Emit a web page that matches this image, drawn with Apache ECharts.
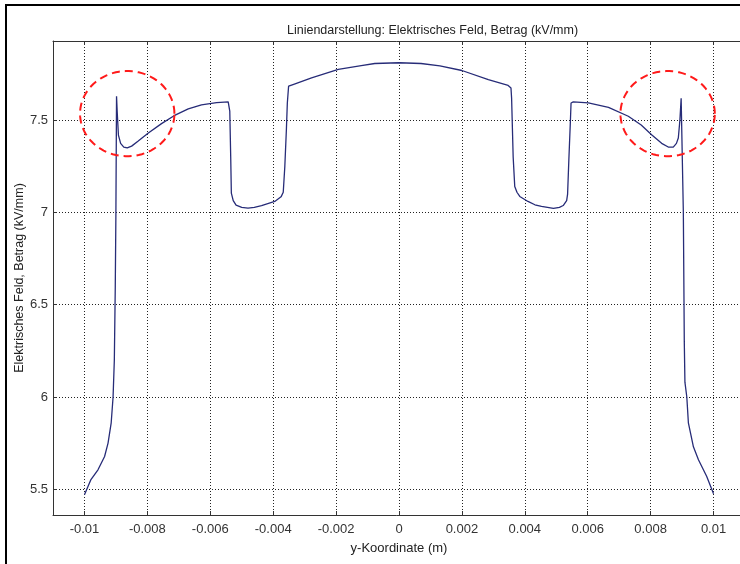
<!DOCTYPE html>
<html>
<head>
<meta charset="utf-8">
<script src="https://cdn.jsdelivr.net/npm/echarts@6/dist/echarts.min.js"></script>
<style>html,body{margin:0;padding:0;background:#fff}#c{width:740px;height:564px}</style>
</head>
<body>
<div id="c"></div>
<script>
// y-Koordinate (m)
var posX = [-0.0100, -0.0098, -0.00957, -0.00936, -0.00925, -0.00915, -0.00909, -0.00905, -0.00902, -0.00900, -0.00898,
  -0.00896, -0.00892, -0.00885, -0.00875, -0.00864, -0.0085, -0.0083, -0.00798, -0.00755, -0.00715, -0.0067, -0.00628,
  -0.0058, -0.00543, -0.00538, -0.00535, -0.00533, -0.00527, -0.00518, -0.0050, -0.0048, -0.0046, -0.00437, -0.00395,
  -0.00375, -0.00368, -0.00363, -0.00358, -0.00355, -0.00351, -0.00337, -0.00278, -0.00193, -0.0012, -0.00077, 0.0,
  0.0007, 0.0013, 0.002, 0.00284, 0.00347, 0.00356, 0.00358, 0.00363, 0.00368, 0.00375, 0.00384, 0.0041, 0.00432,
  0.00453, 0.00491, 0.0051, 0.00522, 0.00533, 0.00536, 0.0054, 0.00545, 0.00547, 0.00554, 0.00602, 0.00666, 0.00729,
  0.0077, 0.00803, 0.00835, 0.00856, 0.00872, 0.00882, 0.00888, 0.00893, 0.00897, 0.00901, 0.00904, 0.00907, 0.00909,
  0.00915, 0.0092, 0.00936, 0.00952, 0.00978, 0.0100];
// Elektrisches Feld, Betrag (kV/mm)
var fieldE = [5.47, 5.55, 5.605, 5.677, 5.75, 5.86, 6.0, 6.2, 6.6, 7.0, 7.63,
  7.55, 7.42, 7.375, 7.355, 7.35, 7.36, 7.386, 7.43, 7.482, 7.525, 7.562, 7.584,
  7.596, 7.6, 7.55, 7.3, 7.105, 7.065, 7.04, 7.028, 7.024, 7.028, 7.038, 7.06,
  7.085, 7.11, 7.25, 7.45, 7.594, 7.685, 7.694, 7.73, 7.776, 7.797, 7.808, 7.812,
  7.808, 7.795, 7.77, 7.72, 7.689, 7.675, 7.62, 7.3, 7.141, 7.11, 7.087, 7.06, 7.042,
  7.033, 7.022, 7.028, 7.038, 7.065, 7.1, 7.286, 7.5, 7.594, 7.6, 7.594, 7.57, 7.522,
  7.475, 7.422, 7.375, 7.355, 7.355, 7.375, 7.404, 7.5, 7.62, 7.63, 7.0, 6.3, 6.08,
  6.0, 5.86, 5.73, 5.66, 5.57, 5.475];
// highlighted regions (red dashed ellipses): centre x, centre y, radius x, radius y
var markCX = [-0.00864, 0.00854];
var markCY = [7.536, 7.536];
var markRX = [0.0015, 0.0015];
var markRY = [0.231, 0.231];

var titleText = 'Liniendarstellung: Elektrisches Feld, Betrag (kV/mm)';
var xName = 'y-Koordinate (m)';
var yName = 'Elektrisches Feld, Betrag (kV/mm)';

var lineData = posX.map(function (x, i) { return [x, fieldE[i]]; });
var markData = markCX.map(function (x, i) { return [x, markCY[i], markRX[i], markRY[i]]; });

var font = 'Liberation Sans, Arial, sans-serif';
var chart = echarts.init(document.getElementById('c'), null, {renderer: 'canvas'});
chart.setOption({
  animation: false,
  backgroundColor: '#fff',
  title: {
    text: titleText, left: 282, top: 19,
    textStyle: {fontFamily: font, fontSize: 12.5, fontWeight: 'normal', color: '#222'}
  },
  graphic: [{
    type: 'rect', shape: {x: 6, y: 5, width: 800, height: 700},
    style: {fill: 'none', stroke: '#000', lineWidth: 2}, z: 100, silent: true
  }],
  grid: {left: 53, top: 41, width: 692, height: 474, outerBoundsMode: 'none', containLabel: false},
  xAxis: [{
    type: 'value', min: -0.011, max: 0.011, splitNumber: 11,
    name: xName, nameLocation: 'middle', nameGap: 27,
    nameTextStyle: {fontFamily: font, fontSize: 13, color: '#222'},
    axisLine: {show: true, onZero: false, lineStyle: {color: '#333', width: 1}},
    axisTick: {show: true, inside: true, length: 4, lineStyle: {color: '#333'}},
    axisLabel: {
      fontFamily: font, fontSize: 13, color: '#333', margin: 8,
      showMinLabel: false, showMaxLabel: false,
      formatter: function (v) {
        var r = Math.round(v * 1000);
        if (Math.abs(v * 1000 - r) > 1e-6 || r % 2 !== 0) return '';
        return String(+v.toFixed(3));
      }
    },
    splitLine: {show: true, lineStyle: {color: '#222', type: [1, 2], width: 1}}
  }, {
    type: 'value', position: 'top', min: -0.011, max: 0.011, splitNumber: 11,
    axisLine: {show: true, onZero: false, lineStyle: {color: '#333', width: 1}},
    axisTick: {show: true, inside: true, length: 4, lineStyle: {color: '#333'}},
    axisLabel: {show: false}, splitLine: {show: false}
  }],
  yAxis: {
    type: 'value', min: 5.36, max: 7.93, splitNumber: 5,
    name: yName, nameLocation: 'middle', nameGap: 27, nameRotate: 90, nameMoveOverlap: false,
    nameTextStyle: {fontFamily: font, fontSize: 12.5, color: '#222'},
    axisLine: {show: true, onZero: false, lineStyle: {color: '#333', width: 1}},
    axisTick: {show: true, inside: true, length: 4, lineStyle: {color: '#333'}},
    axisLabel: {
      fontFamily: font, fontSize: 13, color: '#333', margin: 5,
      showMinLabel: false, showMaxLabel: false,
      formatter: function (v) {
        var r = Math.round(v * 2);
        if (Math.abs(v * 2 - r) > 1e-6) return '';
        return String(+v.toFixed(1));
      }
    },
    splitLine: {show: true, lineStyle: {color: '#222', type: [1, 2], width: 1}}
  },
  series: [{
    type: 'line', data: lineData, showSymbol: false, symbol: 'none',
    lineStyle: {color: '#272c78', width: 1.3}, z: 3
  }, {
    type: 'custom', data: markData, z: 5, silent: true,
    renderItem: function (params, api) {
      var cx = api.value(0), cy = api.value(1), rx = api.value(2), ry = api.value(3);
      var pts = [];
      for (var k = 0; k < 90; k++) {
        var a = k / 90 * Math.PI * 2;
        pts.push(api.coord([cx + rx * Math.cos(a), cy + ry * Math.sin(a)]));
      }
      return {
        type: 'polygon', shape: {points: pts},
        style: {fill: 'none', stroke: '#ff1a1a', lineWidth: 2, lineDash: [8, 5]}
      };
    }
  }]
});
</script>
</body>
</html>
